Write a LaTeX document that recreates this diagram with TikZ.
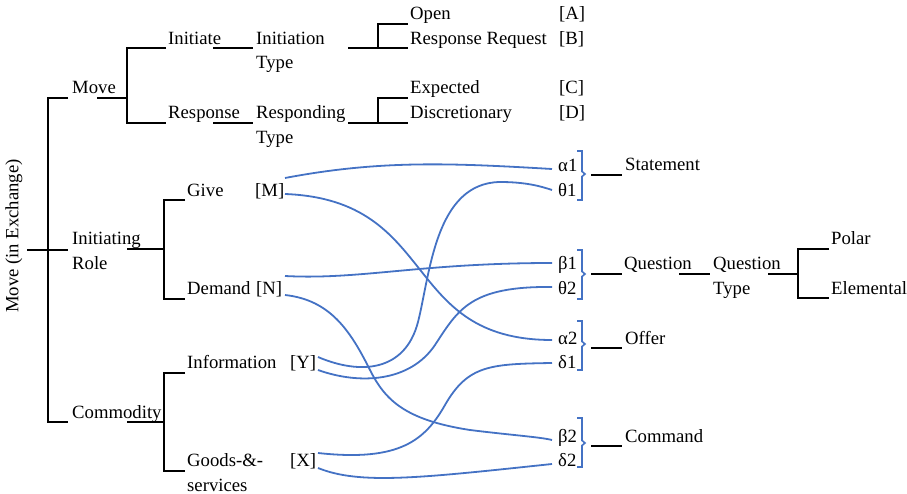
\documentclass[tikz,border=0pt]{standalone}
\usepackage{fontspec}
\setmainfont{Liberation Serif}
\definecolor{wordblue}{RGB}{68,114,196}
\newcommand\diagfont{\fontsize{18.7}{22}\selectfont}
\tikzset{
  tree/.style={draw=black, line width=1.7pt},
  link/.style={draw=wordblue, line width=1.8pt},
  brace/.style={draw=wordblue, line width=1.6pt, line join=miter},
  lbl/.style={anchor=base west, inner sep=0pt, font=\diagfont},
}
\begin{document}
\begin{tikzpicture}[x=1pt,y=-1pt]
\useasboundingbox (0,0) rectangle (907,494);

% ---------- texts ----------
\node[rotate=90, font=\diagfont, inner sep=0pt] (root) at (14,236) {Move (in Exchange)};
\node[lbl] (move) at (72,94) {Move};
\node[lbl] (initiating) at (72,245) {Initiating};
\node[lbl] (role) at (72,269.5) {Role};
\node[lbl] (commodity) at (72,418.5) {Commodity};

\node[lbl] (initiate) at (168,45) {Initiate};
\node[lbl] (initiation) at (256,45) {Initiation};
\node[lbl] (itype) at (256,69) {Type};
\node[lbl] (response) at (168,119) {Response};
\node[lbl] (responding) at (256,119) {Responding};
\node[lbl] (rtype) at (256,144) {Type};

\node[lbl] (open) at (410,19.5) {Open};
\node[lbl] (rr) at (410,45) {Response Request};
\node[lbl] (expected) at (410,94) {Expected};
\node[lbl] (discr) at (410,119) {Discretionary};
\node[lbl] (A) at (559,19.5) {[A]};
\node[lbl] (B) at (559,45) {[B]};
\node[lbl] (C) at (559,94) {[C]};
\node[lbl] (D) at (559,119) {[D]};

\node[lbl] (give) at (187,196.5) {Give};
\node[lbl] (M) at (255,196.5) {[M]};
\node[lbl] (demand) at (187,294.5) {Demand};
\node[lbl] (N) at (256,294.5) {[N]};
\node[lbl] (information) at (187,368.5) {Information};
\node[lbl] (Y) at (290,368.5) {[Y]};
\node[lbl] (goods) at (187,466.5) {Goods-\&-};
\node[lbl] (services) at (187,491) {services};
\node[lbl] (X) at (290,466.5) {[X]};

\node[lbl] (ga1) at (558,171.5) {α1};
\node[lbl] (gt1) at (558,196.5) {θ1};
\node[lbl] (gb1) at (558,269.5) {β1};
\node[lbl] (gt2) at (558,294.5) {θ2};
\node[lbl] (ga2) at (558,344.5) {α2};
\node[lbl] (gd1) at (558,368.5) {δ1};
\node[lbl] (gb2) at (558,442.5) {β2};
\node[lbl] (gd2) at (558,466.5) {δ2};

\node[lbl] (statement) at (625,170.5) {Statement};
\node[lbl] (question) at (624,269.5) {Question};
\node[lbl] (qtype1) at (713,269.5) {Question};
\node[lbl] (qtype2) at (713,294.5) {Type};
\node[lbl] (polar) at (831,244.5) {Polar};
\node[lbl] (elemental) at (831,294.5) {Elemental};
\node[lbl] (offer) at (625,344.5) {Offer};
\node[lbl] (command) at (625,442.5) {Command};

% ---------- tree junctions ----------
\coordinate (j0) at (48,250);
\coordinate (jmove) at (127,98);
\coordinate (jrole) at (164,249);
\coordinate (jcomm) at (164,422);
\coordinate (jinit) at (378,48);
\coordinate (jresp) at (378,123);
\coordinate (jqt) at (798,274);

% root and level 1
\draw[tree] (27,250) -- (68,250);
\draw[tree] (68,98) -- (j0 |- 0,98) -- (j0 |- 0,422) -- (68,422);
% Move
\draw[tree] (97,98) -- (jmove);
\draw[tree] (166,48) -- (jmove |- 0,48) -- (jmove |- 0,123) -- (166,123);
\draw[tree] (213,48) -- (253,48);
\draw[tree] (213,123) -- (253,123);
\draw[tree] (348,48) -- (408,48);
\draw[tree] (jinit) -- (378,24) -- (408,24);
\draw[tree] (348,123) -- (408,123);
\draw[tree] (jresp) -- (378,98) -- (408,98);
% Initiating Role
\draw[tree] (127,249) -- (jrole);
\draw[tree] (185,200) -- (jrole |- 0,200) -- (jrole |- 0,299) -- (185,299);
% Commodity
\draw[tree] (127,422) -- (jcomm);
\draw[tree] (185,373) -- (jcomm |- 0,373) -- (jcomm |- 0,471) -- (185,471);
% right side
\draw[tree] (591,175) -- (622,175);
\draw[tree] (591,274) -- (622,274);
\draw[tree] (679,274) -- (710,274);
\draw[tree] (768,274) -- (jqt);
\draw[tree] (829,249) -- (jqt |- 0,249) -- (jqt |- 0,298) -- (829,298);
\draw[tree] (591,348) -- (622,348);
\draw[tree] (591,446) -- (622,446);

% ---------- braces ----------
\draw[brace] (577,151) -- (582,151) -- (582,171.5) -- (585,174) -- (582,176.5) -- (582,200) -- (577,200);
\draw[brace] (577,250) -- (582,250) -- (582,271.5) -- (585,274) -- (582,276.5) -- (582,299) -- (577,299);
\draw[brace] (577,321) -- (582,321) -- (582,341.5) -- (585,344) -- (582,346.5) -- (582,370) -- (577,370);
\draw[brace] (577,418) -- (582,418) -- (582,440.5) -- (585,443) -- (582,445.5) -- (582,467) -- (577,467);

% ---------- link end points ----------
\coordinate (Mt) at (285,178);
\coordinate (Mb) at (285,194);
\coordinate (Nt) at (285,276);
\coordinate (Nb) at (285,295);
\coordinate (Yt) at (318,357);
\coordinate (Yb) at (318,370);
\coordinate (Xt) at (318,453);
\coordinate (Xb) at (318,468);
\coordinate (ea1) at (552,169);
\coordinate (et1) at (552,190);
\coordinate (eb1) at (552,263);
\coordinate (et2) at (552,287);
\coordinate (ea2) at (552,340);
\coordinate (ed1) at (552,363);
\coordinate (eb2) at (552,440);
\coordinate (ed2) at (552,464);

% ---------- links ----------
\draw[link] (Mt) .. controls (380,160) and (450,163) .. (ea1);
\draw[link] (Mb) .. controls (440,200) and (400,340) .. (ea2);
\draw[link] (Nt) .. controls (360,280) and (420,263) .. (eb1);
\draw[link] (Nb) .. controls (330,300) and (350,330) .. (370,370)
                 .. controls (385,400) and (405,420) .. (470,430)
                 .. controls (510,435) and (540,437) .. (eb2);
\draw[link] (Yt) .. controls (360,375) and (405,372) .. (418,322)
                 .. controls (430,275) and (435,183) .. (500,182)
                 .. controls (525,182) and (540,186) .. (et1);
\draw[link] (Yb) .. controls (360,385) and (410,382) .. (435,345)
                 .. controls (458,310) and (470,286) .. (et2);
\draw[link] (Xt) .. controls (400,462) and (425,440) .. (445,405)
                 .. controls (468,365) and (490,364) .. (ed1);
\draw[link] (Xb) .. controls (360,485) and (420,478) .. (ed2);
\end{tikzpicture}
\end{document}
